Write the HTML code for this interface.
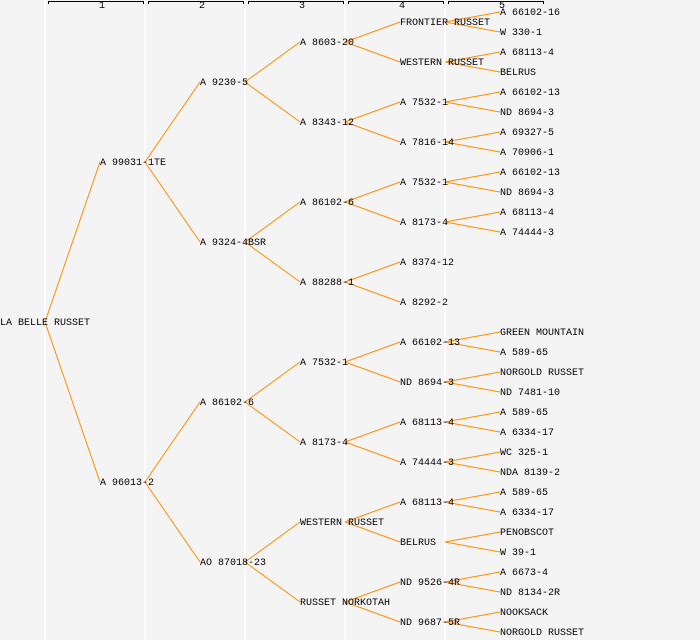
<!DOCTYPE html>
<html><head><meta charset="utf-8"><style>
html,body{margin:0;padding:0;background:#f4f4f4;}
svg{display:block;}
text{font-family:"Liberation Mono","DejaVu Sans Mono",monospace;font-size:10px;fill:#000;}
</style></head><body>
<svg id="s" width="700" height="640" xmlns="http://www.w3.org/2000/svg">
<rect width="700" height="640" fill="#f4f4f4"/>
<g stroke="#ffffff" stroke-width="1.5">
<line x1="45" y1="0" x2="45" y2="640"/><line x1="145" y1="0" x2="145" y2="640"/><line x1="245" y1="0" x2="245" y2="640"/><line x1="345" y1="0" x2="345" y2="640"/><line x1="445" y1="0" x2="445" y2="640"/>
</g>
<g stroke="#000" stroke-width="1" fill="none">
<path d="M48.5 4V1.5H143.5V4"/><path d="M148.5 4V1.5H243.5V4"/><path d="M248.5 4V1.5H343.5V4"/><path d="M348.5 4V1.5H443.5V4"/><path d="M448.5 4V1.5H543.5V4"/>
</g>
<g style="font-size:8px"><text x="99" y="8">1</text><text x="199" y="8">2</text><text x="299" y="8">3</text><text x="399" y="8">4</text><text x="499" y="8">5</text></g>
<g id="lines" stroke="#ff8c00" stroke-width="1" fill="none"></g>
<g id="labels"></g>
</svg>
<script>
var tree=["LA BELLE RUSSET",[
 ["A 99031-1TE",[
  ["A 9230-5",[
   ["A 8603-20",[["FRONTIER RUSSET",[["A 66102-16"],["W 330-1"]]],["WESTERN RUSSET",[["A 68113-4"],["BELRUS"]]]]],
   ["A 8343-12",[["A 7532-1",[["A 66102-13"],["ND 8694-3"]]],["A 7816-14",[["A 69327-5"],["A 70906-1"]]]]]]],
  ["A 9324-4BSR",[
   ["A 86102-6",[["A 7532-1",[["A 66102-13"],["ND 8694-3"]]],["A 8173-4",[["A 68113-4"],["A 74444-3"]]]]],
   ["A 88288-1",[["A 8374-12"],["A 8292-2"]]]]]]],
 ["A 96013-2",[
  ["A 86102-6",[
   ["A 7532-1",[["A 66102-13",[["GREEN MOUNTAIN"],["A 589-65"]]],["ND 8694-3",[["NORGOLD RUSSET"],["ND 7481-10"]]]]],
   ["A 8173-4",[["A 68113-4",[["A 589-65"],["A 6334-17"]]],["A 74444-3",[["WC 325-1"],["NDA 8139-2"]]]]]]],
  ["AO 87018-23",[
   ["WESTERN RUSSET",[["A 68113-4",[["A 589-65"],["A 6334-17"]]],["BELRUS",[["PENOBSCOT"],["W 39-1"]]]]],
   ["RUSSET NORKOTAH",[["ND 9526-4R",[["A 6673-4"],["ND 8134-2R"]]],["ND 9687-5R",[["NOOKSACK"],["NORGOLD RUSSET"]]]]]]]]]]];
var NS="http://www.w3.org/2000/svg",L=document.getElementById("lines"),T=document.getElementById("labels");
function draw(n,d,y,span){
 var x=d*100;
 var t=document.createElementNS(NS,"text");t.setAttribute("x",x);t.setAttribute("y",y+3);t.textContent=n[0];T.appendChild(t);
 if(n[1]){var h=span/2;[ [n[1][0],y-h/2],[n[1][1],y+h/2] ].forEach(function(c){
  var l=document.createElementNS(NS,"line");l.setAttribute("x1",x+45);l.setAttribute("y1",y);l.setAttribute("x2",x+100);l.setAttribute("y2",c[1]);L.appendChild(l);
  draw(c[0],d+1,c[1],h);});}
}
draw(tree,0,322,640);
</script>
</body></html>
